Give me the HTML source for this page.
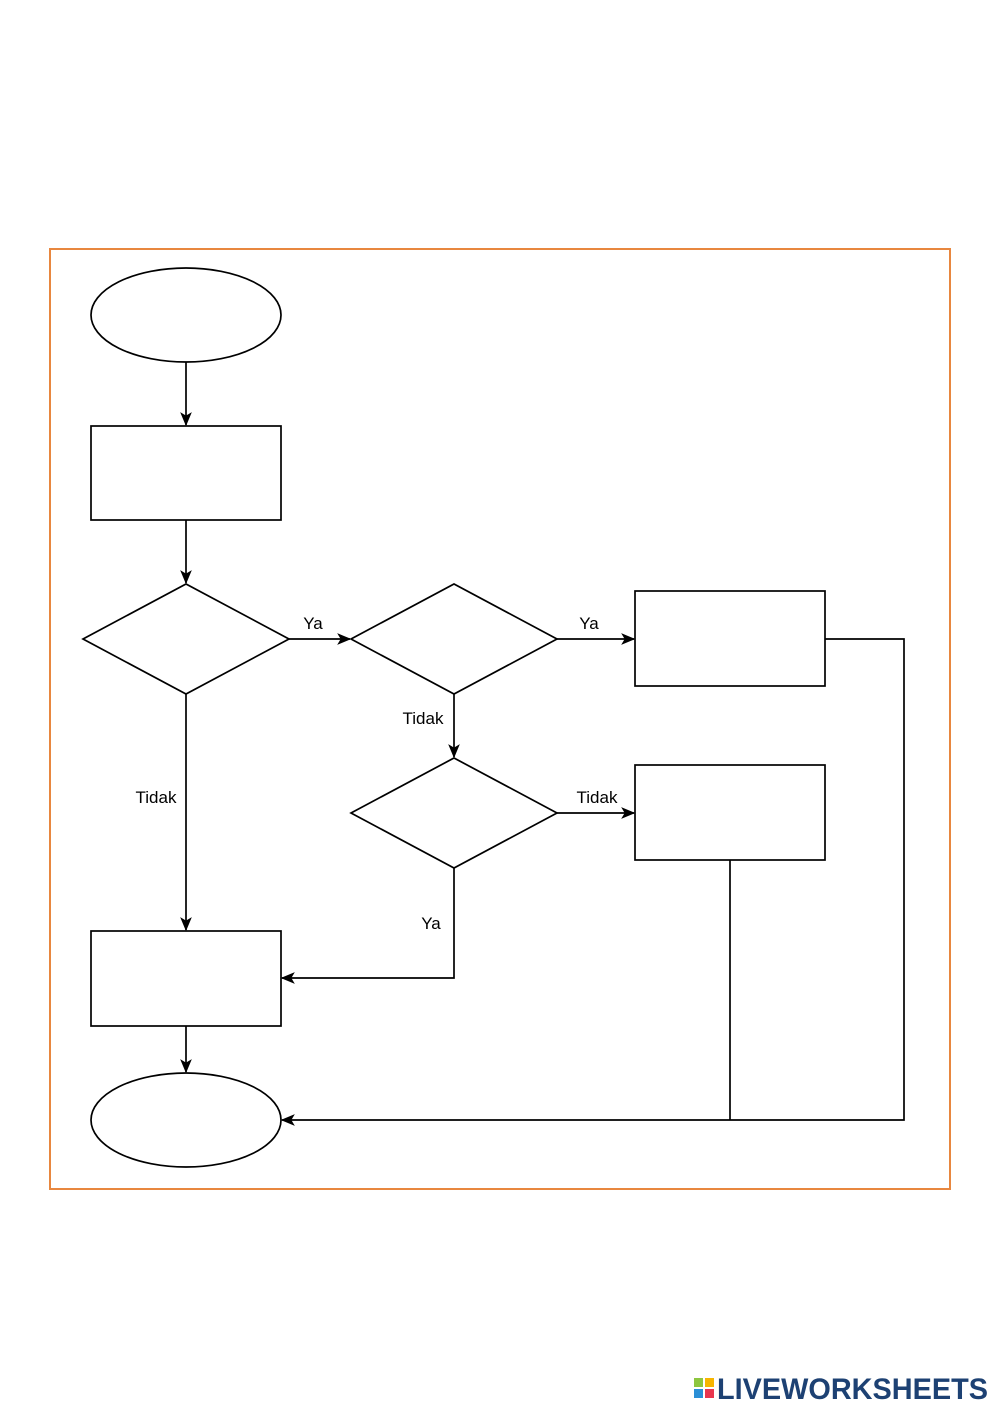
<!DOCTYPE html>
<html><head><meta charset="utf-8"><style>
html,body{margin:0;padding:0;background:#fff;width:1000px;height:1414px;overflow:hidden}
svg{display:block}
</style></head><body>
<svg width="1000" height="1414" xmlns="http://www.w3.org/2000/svg">
<defs>
<marker id="a" viewBox="0 0 12 10" refX="11" refY="5" markerWidth="14" markerHeight="12" markerUnits="userSpaceOnUse" orient="auto">
<path d="M0,0 L12,5 L0,10 L3,5 Z" fill="#000"/>
</marker>
</defs>
<rect x="50" y="249" width="900" height="940" fill="none" stroke="#e8873f" stroke-width="2"/>
<g fill="#fff" stroke="#000" stroke-width="1.7">
<ellipse cx="186" cy="315" rx="95" ry="47"/>
<rect x="91" y="426" width="190" height="94"/>
<polygon points="83,639 186,584 289,639 186,694"/>
<polygon points="351,639 454,584 557,639 454,694"/>
<rect x="635" y="591" width="190" height="95"/>
<polygon points="351,813 454,758 557,813 454,868"/>
<rect x="635" y="765" width="190" height="95"/>
<rect x="91" y="931" width="190" height="95"/>
<ellipse cx="186" cy="1120" rx="95" ry="47"/>
</g>
<g fill="none" stroke="#000" stroke-width="1.7">
<line x1="186" y1="362" x2="186" y2="425" marker-end="url(#a)"/>
<line x1="186" y1="520" x2="186" y2="583" marker-end="url(#a)"/>
<line x1="289" y1="639" x2="350" y2="639" marker-end="url(#a)"/>
<line x1="557" y1="639" x2="634" y2="639" marker-end="url(#a)"/>
<line x1="454" y1="694" x2="454" y2="757" marker-end="url(#a)"/>
<line x1="557" y1="813" x2="634" y2="813" marker-end="url(#a)"/>
<line x1="186" y1="694" x2="186" y2="930" marker-end="url(#a)"/>
<polyline points="454,868 454,978 282,978" marker-end="url(#a)"/>
<line x1="186" y1="1026" x2="186" y2="1072" marker-end="url(#a)"/>
<polyline points="825,639 904,639 904,1120 282,1120" marker-end="url(#a)"/>
<line x1="730" y1="860" x2="730" y2="1120"/>
</g>
<g font-family="Liberation Sans, sans-serif" font-size="17" fill="#000" text-anchor="middle">
<text x="313" y="629">Ya</text>
<text x="589" y="629">Ya</text>
<text x="423" y="724">Tidak</text>
<text x="156" y="803">Tidak</text>
<text x="597" y="803">Tidak</text>
<text x="431" y="929">Ya</text>
</g>
<g font-family="Liberation Sans, sans-serif" font-weight="bold">
<rect x="694" y="1378" width="9" height="9" fill="#8dc63f"/>
<rect x="705" y="1378" width="9" height="9" fill="#f7b500"/>
<rect x="694" y="1389" width="9" height="9" fill="#2b8fd6"/>
<rect x="705" y="1389" width="9" height="9" fill="#e8364f"/>
<text x="717" y="1399" font-size="30" fill="#1d4173" textLength="271" lengthAdjust="spacingAndGlyphs">LIVEWORKSHEETS</text>
</g>
</svg>
</body></html>
